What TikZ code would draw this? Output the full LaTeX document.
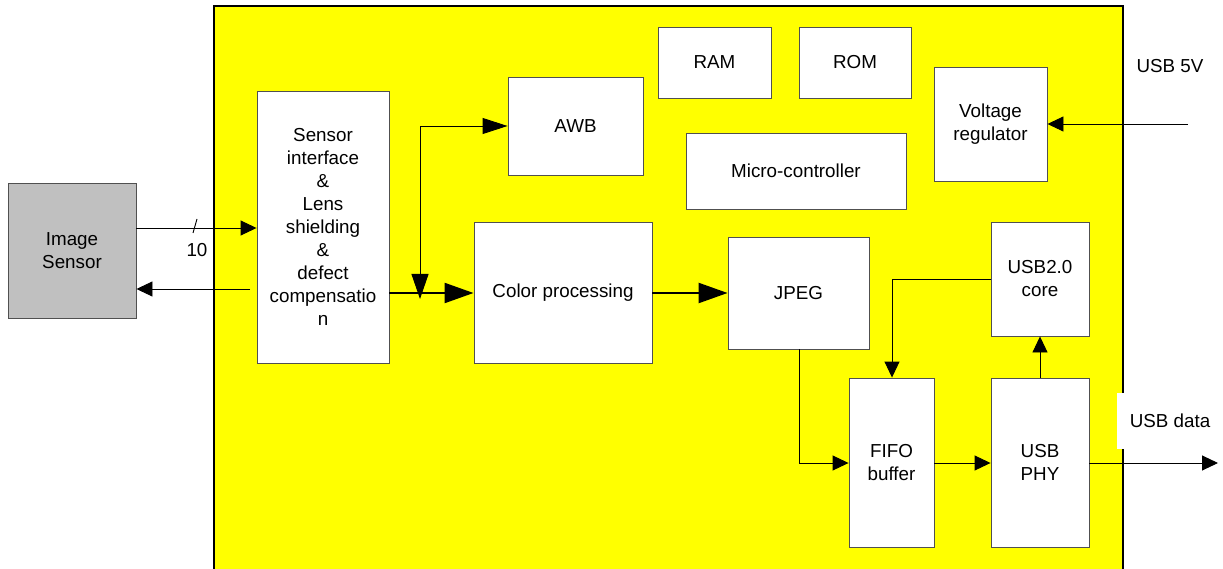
\documentclass[tikz,border=0pt]{standalone}
\usepackage{fontspec}
\setmainfont{Liberation Sans}
\usetikzlibrary{arrows.meta}
\definecolor{boxline}{RGB}{80,80,80}
\definecolor{sensgray}{RGB}{192,192,192}
\definecolor{ylw}{RGB}{255,255,0}
\tikzset{
  blk/.style={draw=boxline, line width=0.9pt, fill=white, inner sep=0pt, align=center,
    font=\fontsize{18.8}{23}\selectfont},
  lbl/.style={inner sep=0pt, font=\fontsize{18.8}{23}\selectfont},
  arr/.style={line width=0.9pt, -{Triangle[length=16pt,width=15pt]}},
  thickarr/.style={line width=2.3pt, -{Triangle[length=29pt,width=20pt]}},
  awbarr/.style={line width=0.9pt, {Triangle[length=25pt,width=17pt]}-{Triangle[length=25pt,width=16pt]}}
}
\begin{document}
\begin{tikzpicture}[x=1pt,y=-1pt]
\useasboundingbox (0,0) rectangle (1223,569);
% chip background
\fill[ylw] (214,6) rectangle (1123,569);
\draw[line width=1.6pt] (214,569) -- (214,6) -- (1123,6) -- (1123,569);
% blocks
\node[blk, fill=sensgray, minimum width=128pt, minimum height=135pt] (sensor) at (72,250.5) {Image\\Sensor};
\node[blk, minimum width=132pt, minimum height=272pt] (sif) at (323,227) {Sensor\\interface\\\&\\Lens\\shielding\\\&\\defect\\compensatio\\n};
\node[blk, minimum width=135pt, minimum height=98pt] (awb) at (575.5,126) {AWB};
\node[blk, minimum width=113pt, minimum height=71pt] (ram) at (714.5,62.5) {RAM};
\node[blk, minimum width=112pt, minimum height=71pt] (rom) at (855,62.5) {ROM};
\node[blk, minimum width=113pt, minimum height=114pt] (vreg) at (990.5,124) {Voltage\\regulator};
\node[blk, minimum width=220pt, minimum height=76pt] (mcu) at (796,171) {Micro-controller};
\node[blk, minimum width=178pt, minimum height=141pt] (color) at (563,292.5) {Color processing};
\node[blk, minimum width=141pt, minimum height=112pt] (jpeg) at (798.5,293) {JPEG};
\node[blk, minimum width=98pt, minimum height=114pt] (core) at (1040,279) {USB2.0\\core};
\node[blk, minimum width=85pt, minimum height=169pt] (fifo) at (891.5,462.5) {FIFO\\buffer};
\node[blk, minimum width=98pt, minimum height=169pt] (phy) at (1040,462.5) {USB\\PHY};
% external labels
\node[lbl, fill=white, minimum width=92pt, minimum height=66pt] (usb5v) at (1170,66) {USB 5V};
\node[lbl, fill=white, minimum width=106pt, minimum height=56pt] (usbdata) at (1170,421) {USB data};
\coordinate (v5in) at (1188,124);
\coordinate (dout) at (1218,463);
\coordinate (retstart) at (250,289);
\coordinate (awbjoin) at (420,299);
% connectors
\draw[arr] (sensor.east |- 0,228) -- (sif.west |- 0,228);
\draw[line width=0.9pt] (193,233) -- (197,219);
\node[lbl] (buswidth) at (197,250) {10};
\draw[arr] (retstart) -- (sensor.east |- retstart);
\draw[thickarr] (sif.east |- 0,293) -- (color.west |- 0,293);
\draw[awbarr] (awbjoin) -- (420,126) -- (awb.west |- 0,126);
\draw[thickarr] (color.east |- 0,293) -- (jpeg.west |- 0,293);
\draw[arr] (jpeg.south -| 799,0) -- (799,463) -- (fifo.west |- 0,463);
\draw[arr] (fifo.east |- 0,463) -- (phy.west |- 0,463);
\draw[arr] (phy.north) -- (core.south);
\draw[arr] (core.west |- 0,279) -- (892,279) -- (fifo.north -| 892,0);
\draw[arr] (phy.east |- dout) -- (dout);
\draw[arr] (v5in) -- (vreg.east |- v5in);
\end{tikzpicture}
\end{document}
